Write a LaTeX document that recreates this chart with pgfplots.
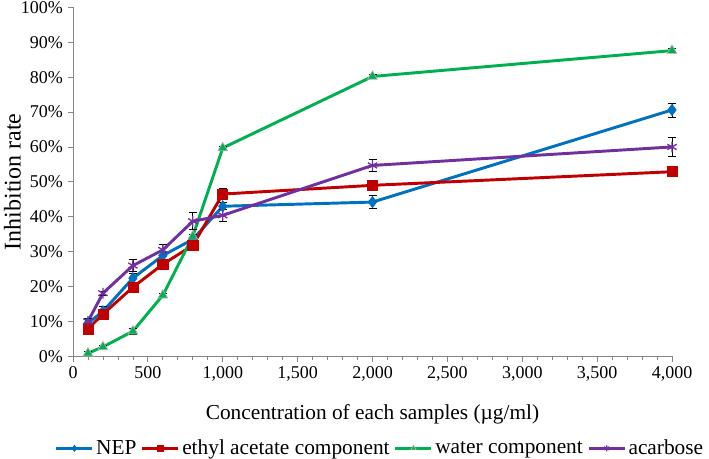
\documentclass[border=0pt]{standalone}
\usepackage{pgfplots}
\pgfplotsset{compat=1.18}
\usepackage{pgfplotstable}
\usepackage{fontspec}
\setmainfont{Liberation Serif}
\usetikzlibrary{calc}
\definecolor{cnep}{HTML}{0070C0}
\definecolor{cea}{HTML}{C00000}
\definecolor{cwat}{HTML}{00B050}
\definecolor{caca}{HTML}{7030A0}
\definecolor{axgray}{HTML}{868686}

\pgfplotstableread{
x y e
100 9.5 1.0
200 12.9 1.5
400 22.4 1.5
600 28.9 1.0
800 33.5 1.5
1000 43.0 1.0
2000 44.2 1.9
4000 70.6 2.0
}\nep
\pgfplotstableread{
x y e
100 7.9 1.5
200 12.1 1.2
400 19.8 1.5
600 26.4 1.5
800 31.8 1.5
1000 46.5 1.5
2000 49.0 1.2
4000 52.9 1.3
}\ea
\pgfplotstableread{
x y e
100 0.9 0.5
200 2.7 0.5
400 7.2 0.8
600 17.5 0.5
800 34.4 0.6
1000 59.7 0.5
2000 80.2 0.7
4000 87.6 0.5
}\wat
\pgfplotstableread{
x y e
100 10.0 1.0
200 18.1 0.5
400 26.0 1.8
600 30.5 1.5
800 38.7 2.4
1000 40.4 1.8
2000 54.7 1.7
4000 60.0 2.8
}\aca

\begin{document}
\begin{tikzpicture}
\begin{axis}[
  name=ax,
  scale only axis,
  width=449.25pt, height=261.75pt,
  xmin=0, xmax=4000, ymin=0, ymax=100,
  axis x line*=bottom, axis y line*=left,
  axis line style={axgray, line width=0.6pt},
  xtick={0,500,...,4000},
  xticklabels={0,500,{1,000},{1,500},{2,000},{2,500},{3,000},{3,500},{4,000}},
  minor xtick={100,200,...,3900},
  ytick={0,10,...,100},
  yticklabels={0\%,10\%,20\%,30\%,40\%,50\%,60\%,70\%,80\%,90\%,100\%},
  tick style={axgray, line width=0.6pt},
  major tick length=4pt, minor tick length=3pt,
  tick align=outside,
  ticklabel style={font=\fontsize{13.5}{15}\selectfont, black},
  xlabel={Concentration of each samples (µg/ml)},
  ylabel={Inhibition rate},
  xlabel style={font=\fontsize{16}{18}\selectfont, at={(axis description cs:0.5,0)}, anchor=center, yshift=-43.5pt},
  ylabel style={font=\fontsize{18}{20}\selectfont, at={(axis description cs:0,0.5)}, anchor=center, yshift=45.5pt},
  legend style={draw=none, at={(0.5,0)}, anchor=center, yshift=-69pt, xshift=6pt, font=\fontsize{16}{18}\selectfont,
    /tikz/every odd column/.append style={column sep=0pt},
    /tikz/every even column/.append style={column sep=1.5pt}, inner sep=0pt},
  legend columns=4,
  legend image code/.code={\draw[mark repeat=2, mark phase=2] plot coordinates {(0pt,0pt) (13.5pt,0pt) (27pt,0pt)};},
  legend image post style={mark size=2.3pt, line width=1.8pt},
  every axis plot/.append style={line width=2.2pt,
    error bars/y dir=both, error bars/y explicit,
    error bars/error bar style={black, line width=0.6pt},
    error bars/error mark options={black, rotate=90, mark size=3pt, line width=0.6pt}},
  clip=false,
]
\addplot[cnep, mark=diamond*, mark size=4.2pt, mark options={solid, fill=cnep, line width=0.5pt}] table[x=x, y=y, y error=e]{\nep};
\addlegendentry{NEP}
\addplot[cea, mark=square*, mark size=3.8pt, mark options={solid, fill=cea, line width=0.5pt}] table[x=x, y=y, y error=e]{\ea};
\addlegendentry{ethyl acetate component}
\addplot[cwat, mark=triangle*, mark size=4.2pt, mark options={solid, fill=cwat, draw=gray!60, line width=0.5pt}] table[x=x, y=y, y error=e]{\wat};
\addlegendentry{water component}
\addplot[caca, mark=asterisk, mark size=4pt, mark options={solid, line width=1pt}] table[x=x, y=y, y error=e]{\aca};
\addlegendentry{acarbose}
\end{axis}
\pgfresetboundingbox
\path[use as bounding box] ($(ax.south west)+(-54.75pt,-76.25pt)$) rectangle ($(ax.north east)+(27.75pt,5.5pt)$);
\end{tikzpicture}
\end{document}
